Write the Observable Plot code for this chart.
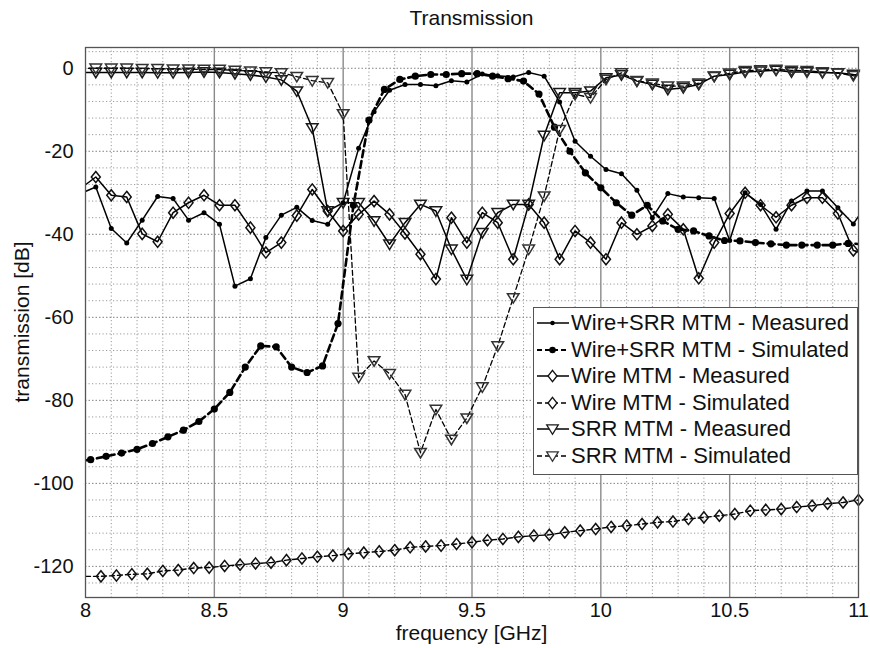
<!DOCTYPE html>
<html><head><meta charset="utf-8">
<script src="https://cdn.jsdelivr.net/npm/d3@7"></script>
<script src="https://cdn.jsdelivr.net/npm/@observablehq/plot@0.6"></script>
<style>
body{margin:0;background:#fff;font-family:"Liberation Sans",Arial,sans-serif;color:#111;}
#wrap{position:relative;width:870px;height:648px;overflow:hidden;}
#title{position:absolute;left:85px;width:773px;top:0;height:34px;line-height:36px;text-align:center;font-size:21px;}
#chart{position:absolute;left:0;top:34px;}
#xlabel{position:absolute;left:85px;width:773px;top:620px;text-align:center;font-size:21px;line-height:26px;}
#ylabel{position:absolute;left:22px;top:322px;transform:translate(-50%,-50%) rotate(-90deg);font-size:21px;white-space:nowrap;line-height:26px;}
#legend{position:absolute;left:533px;top:307px;width:325px;height:168px;border:1.5px solid #555;background:#fff;box-sizing:border-box;}
.row{position:absolute;left:0;height:26px;display:flex;align-items:center;}
.row span{font-size:22px;margin-left:1px;white-space:nowrap;}
</style></head><body>
<div id="wrap">
<div id="title">Transmission</div>
<div id="chart"></div>
<div id="xlabel">frequency [GHz]</div>
<div id="ylabel">transmission [dB]</div>
<div id="legend"></div>
</div>
<script>
// frequency grids (GHz)
const freqA = [7.98,8.04,8.10,8.16,8.22,8.28,8.34,8.40,8.46,8.52,8.58,8.64,8.70,8.76,8.82,8.88,8.94,9.00,9.06,9.12,9.18,9.24,9.30,9.36,9.42,9.48,9.54,9.60,9.66,9.72,9.78,9.84,9.90,9.96,10.02,10.08,10.14,10.20,10.26,10.32,10.38,10.44,10.50,10.56,10.62,10.68,10.74,10.80,10.86,10.92,10.98,11.04];
const freqB = [7.96,8.02,8.08,8.14,8.20,8.26,8.32,8.38,8.44,8.50,8.56,8.62,8.68,8.74,8.80,8.86,8.92,8.98,9.04,9.10,9.16,9.22,9.28,9.34,9.40,9.46,9.52,9.58,9.64,9.70,9.76,9.82,9.88,9.94,10.00,10.06,10.12,10.18,10.24,10.30,10.36,10.42,10.48,10.54,10.60,10.66,10.72,10.78,10.84,10.90,10.96,11.02];
const freqC = [8.00,8.06,8.12,8.18,8.24,8.30,8.36,8.42,8.48,8.54,8.60,8.66,8.72,8.78,8.84,8.90,8.96,9.02,9.08,9.14,9.20,9.26,9.32,9.38,9.44,9.50,9.56,9.62,9.68,9.74,9.80,9.86,9.92,9.98,10.04,10.10,10.16,10.22,10.28,10.34,10.40,10.46,10.52,10.58,10.64,10.70,10.76,10.82,10.88,10.94,11.00];

// series values (dB)
const wireSrrMeasured = [-30.2,-28.6,-38.6,-42.1,-36.6,-30.9,-31.4,-36.6,-34.8,-37.6,
 -52.5,-50.7,-40.8,-35.4,-33.5,-36.7,-37.6,-32.4,-19.3,-10.5,
 -5.3,-3.9,-3.9,-4.2,-3.0,-3.3,-1.4,-1.8,-2.1,-1.0,
 -1.9,-8.1,-17.6,-21.2,-24.4,-25.4,-29.4,-36.0,-30.2,-31.0,
 -31.2,-31.4,-41.5,-30.0,-32.8,-38.8,-32.0,-29.6,-29.6,-33.6,
 -37.5,-32.0];
const wireSrrSimulated = [-94.8,-94.3,-93.5,-92.7,-91.8,-90.4,-88.8,-87.2,-85.1,-82.1,
 -78.1,-72.0,-66.9,-67.1,-72.0,-73.3,-71.7,-61.5,-33.0,-12.5,
 -5.1,-2.7,-1.9,-1.5,-1.5,-1.3,-1.3,-1.9,-2.5,-3.1,
 -6.2,-14.2,-20.0,-25.2,-28.8,-32.4,-35.4,-33.0,-36.8,-38.8,
 -39.2,-40.4,-41.5,-41.6,-42.0,-42.3,-42.6,-42.6,-42.6,-42.6,
 -42.2,-42.4];
const wireMeasured = [-29.0,-26.2,-30.6,-31.0,-39.9,-41.8,-34.8,-32.4,-30.6,-33.0,
 -33.0,-38.4,-44.4,-42.0,-35.5,-29.2,-34.4,-39.2,-35.2,-32.0,
 -35.2,-39.8,-44.8,-50.8,-36.0,-42.0,-34.8,-37.2,-46.0,-32.8,
 -37.2,-46.0,-39.2,-42.0,-46.0,-37.2,-40.0,-38.0,-35.2,-38.8,
 -50.6,-42.0,-35.0,-30.0,-33.0,-35.9,-33.0,-31.2,-31.2,-35.0,
 -43.9,-45.0];
const wireSimulated = [-122.4,-122.4,-122.2,-121.9,-121.8,-121.1,-120.9,-120.4,-120.3,-119.9,
 -119.6,-119.3,-119.1,-118.5,-118.1,-117.7,-117.4,-117.0,-116.7,-116.4,
 -116.1,-115.4,-115.2,-115.0,-114.6,-114.2,-113.7,-113.4,-112.9,-112.6,
 -112.4,-111.8,-111.4,-111.0,-110.5,-110.2,-109.8,-109.4,-109.2,-108.6,
 -108.2,-107.8,-107.4,-106.6,-106.4,-106.2,-105.7,-105.4,-104.9,-104.6,
 -104.0];
const srrMeasured = [-1.0,-1.0,-1.0,-1.0,-1.0,-1.1,-1.1,-1.0,-0.9,-1.0,
 -1.3,-1.6,-2.1,-2.8,-5.5,-14.4,-34.4,-32.4,-32.4,-36.8,
 -42.4,-37.2,-32.8,-34.4,-43.6,-50.9,-39.6,-34.8,-32.8,-32.8,
 -16.2,-5.9,-5.9,-5.5,-2.3,-1.6,-3.1,-3.9,-5.1,-4.7,
 -3.9,-1.9,-1.5,-0.9,-0.7,-0.5,-0.9,-0.9,-1.1,-1.1,
 -1.5,-1.8];
const srrSimulated = [-0.1,0,0,0,-0.1,-0.1,-0.2,-0.2,-0.3,-0.3,
 -0.5,-0.7,-0.9,-1.1,-2.0,-3.0,-3.5,-11.0,-74.5,-70.5,
 -73.6,-78.6,-92.6,-82.2,-89.4,-84.3,-76.8,-66.9,-55.3,-43.6,
 -30.8,-14.8,-6.3,-7.1,-2.7,-1.1,-3.0,-3.6,-4.3,-4.3,
 -3.6,-2.0,-1.2,-0.6,-0.4,-0.3,-0.5,-0.6,-0.9,-1.2,
 -1.8,-2.0];

const seriesNames = ["Wire+SRR MTM - Measured","Wire+SRR MTM - Simulated","Wire MTM - Measured","Wire MTM - Simulated","SRR MTM - Measured","SRR MTM - Simulated"];
const xTicks = [8, 8.5, 9, 9.5, 10, 10.5, 11];
const yTicks = [0, -20, -40, -60, -80, -100, -120];

// custom marker shapes
const diamondSym = {draw(ctx, size){const r=Math.sqrt(size/Math.PI);const w=r*0.8;ctx.moveTo(0,-r);ctx.lineTo(w,0);ctx.lineTo(0,r);ctx.lineTo(-w,0);ctx.closePath();}};
const triDownSym = {draw(ctx, size){const r=Math.sqrt(size/Math.PI);ctx.moveTo(-r,-0.72*r);ctx.lineTo(r,-0.72*r);ctx.lineTo(0,0.92*r);ctx.closePath();}};

const styles = [
  {freq:freqA, vals:wireSrrMeasured, dash:null, lw:1.5, sym:"circle", r:2.5, fill:"#000", stroke:"none"},
  {freq:freqB, vals:wireSrrSimulated, dash:"7,4", lw:2.6, sym:"circle", r:3.6, fill:"#000", stroke:"none"},
  {freq:freqA, vals:wireMeasured, dash:null, lw:1.5, sym:diamondSym, r:5.6, fill:"none", stroke:"#111"},
  {freq:freqC, vals:wireSimulated, dash:"5,3", lw:1.4, sym:diamondSym, r:5.6, fill:"none", stroke:"#111"},
  {freq:freqA, vals:srrMeasured, dash:null, lw:1.5, sym:triDownSym, r:5.8, fill:"none", stroke:"#1a1a1a"},
  {freq:freqA, vals:srrSimulated, dash:"5,3", lw:1.3, sym:triDownSym, r:5.8, fill:"none", stroke:"#333"}
];

const minorX = d3.range(81, 110).map(d => d/10).filter(d => Math.abs(d*2 - Math.round(d*2)) > 1e-6);
const minorY = d3.range(-124, 5, 4).filter(d => d % 20 !== 0);
const majorXInner = xTicks.slice(1, -1);

const marks = [
  Plot.ruleX(minorX, {stroke:"#9a9a9a", strokeWidth:1, strokeDasharray:"1.2,2.3"}),
  Plot.ruleY(minorY, {stroke:"#9a9a9a", strokeWidth:1, strokeDasharray:"1.2,2.3"}),
  Plot.ruleY(yTicks, {stroke:"#808080", strokeWidth:1, strokeDasharray:"1.5,2"}),
  Plot.ruleX(majorXInner, {stroke:"#8a8a8a", strokeWidth:1.4})
];
styles.forEach(s => {
  const data = s.freq.map((f, i) => ({f, v: s.vals[i]}));
  marks.push(Plot.line(data, {x:"f", y:"v", stroke:"#000", strokeWidth:s.lw, strokeDasharray:s.dash, clip:true}));
  marks.push(Plot.dot(data.filter(d => d.f > 8.001 && d.f < 11.001), {x:"f", y:"v", symbol:s.sym, r:s.r, fill:s.fill, stroke:s.stroke, strokeWidth:1.5}));
});
marks.push(Plot.frame({stroke:"#555", strokeWidth:1.3}));
marks.push(Plot.axisX({ticks:xTicks, tickFormat:d => String(d), tickSize:0, tickPadding:5, fontSize:20, label:null}));
marks.push(Plot.axisY({ticks:yTicks, tickFormat:d => String(d), tickSize:0, tickPadding:12, fontSize:20, label:null}));

const chart = Plot.plot({
  width: 870, height: 614,
  marginLeft: 85, marginRight: 12, marginTop: 13, marginBottom: 51,
  x: {domain:[8, 11]},
  y: {domain:[-127.5, 5]},
  style: {fontFamily:"'Liberation Sans', Arial, sans-serif", fontSize:"20px", color:"#111", background:"#fff", overflow:"visible"},
  marks
});
document.getElementById("chart").appendChild(chart);

// legend
const leg = d3.select("#legend");
styles.forEach((s, i) => {
  const row = leg.append("div").attr("class","row").style("top", (2 + i*26.6) + "px");
  const svg = row.append("svg").attr("width", 34).attr("height", 26).style("margin-left","2px");
  svg.append("line").attr("x1",1).attr("x2",33).attr("y1",13).attr("y2",13)
    .attr("stroke","#000").attr("stroke-width", Math.min(s.lw, 2)).attr("stroke-dasharray", s.dash ? "5,3" : null);
  const r = s.r;
  const path = d3.path();
  if (s.sym === "circle") { path.arc(0, 0, r*0.9, 0, 2*Math.PI); }
  else { s.sym.draw(path, Math.PI*r*r); }
  svg.append("path").attr("d", path.toString()).attr("transform","translate(16.5,13)")
    .attr("fill", s.fill === "none" ? "#fff" : s.fill).attr("stroke", s.stroke).attr("stroke-width", 1.3);
  row.append("span").text(seriesNames[i]);
});
</script>
</body></html>
